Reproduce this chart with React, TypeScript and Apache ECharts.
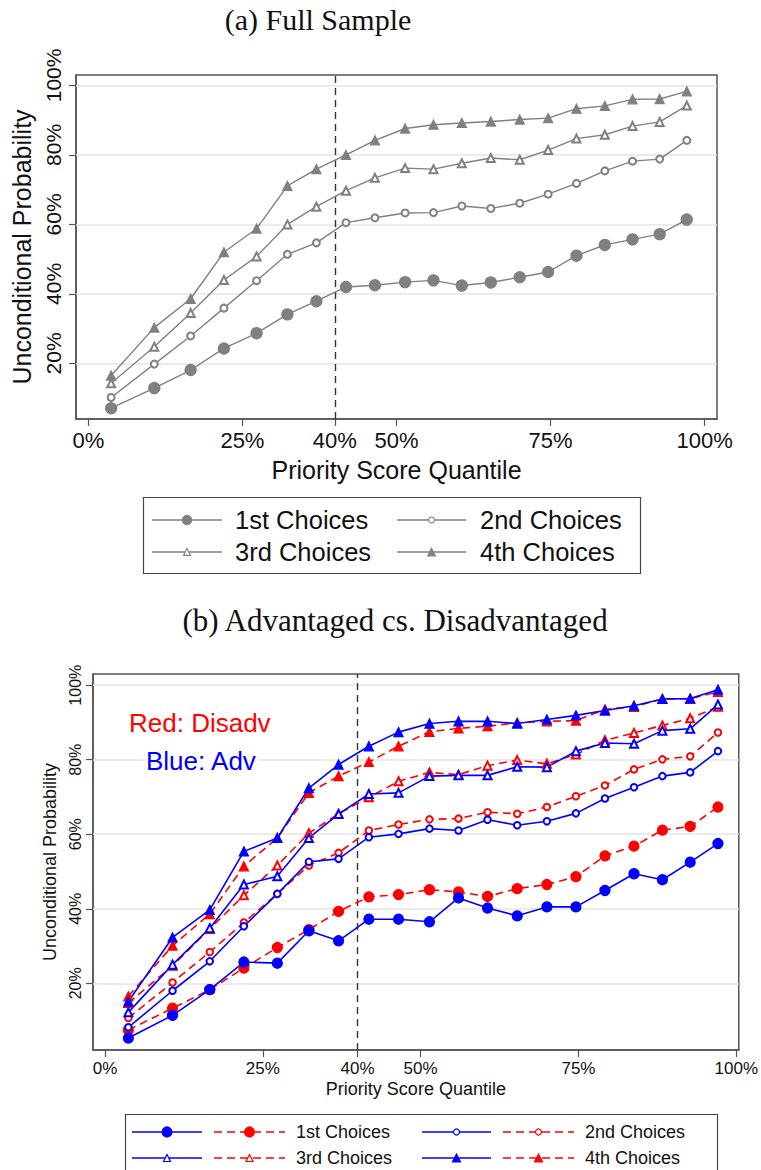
import React, { useEffect, useRef } from "react";
import * as echarts from "echarts";

// Quantile positions (%) of the 20 bins
const quantiles = [3.7, 10.7, 16.6, 22.0, 27.3, 32.3, 37.0, 41.8, 46.5, 51.4, 56.0, 60.6, 65.3, 70.0, 74.6, 79.2, 83.8, 88.3, 92.7, 97.1];

// (a) Full sample
const fullFirst = [7.1, 12.9, 18.1, 24.3, 28.7, 34.1, 37.9, 42.0, 42.5, 43.4, 43.9, 42.4, 43.3, 44.8, 46.3, 51.0, 54.1, 55.7, 57.2, 61.4];
const fullSecond = [10.2, 19.8, 27.9, 35.9, 43.8, 51.4, 54.7, 60.5, 61.9, 63.3, 63.4, 65.3, 64.6, 66.1, 68.7, 71.8, 75.4, 78.2, 78.8, 84.2];
const fullThird = [14.3, 24.8, 34.5, 44.0, 50.8, 60.0, 65.1, 69.7, 73.4, 76.2, 75.9, 77.6, 79.1, 78.6, 81.4, 84.7, 85.8, 88.3, 89.5, 94.2];
const fullFourth = [16.5, 30.3, 38.6, 52.0, 58.8, 71.1, 75.9, 80.0, 84.2, 87.6, 88.7, 89.2, 89.6, 90.2, 90.6, 93.3, 94.1, 96.0, 96.1, 98.3];

// (b) Advantaged (blue) vs Disadvantaged (red)
const advFirst = [5.3, 11.4, 18.3, 25.7, 25.4, 34.1, 31.4, 37.2, 37.2, 36.5, 42.9, 40.2, 38.1, 40.5, 40.5, 44.9, 49.4, 47.8, 52.5, 57.5];
const disFirst = [7.5, 13.3, 18.3, 24.1, 29.6, 34.4, 39.3, 43.2, 43.8, 45.1, 44.5, 43.3, 45.4, 46.5, 48.6, 54.2, 56.8, 61.1, 62.1, 67.3];
const advSecond = [8.2, 18.0, 25.9, 35.3, 44.0, 52.6, 53.4, 59.2, 60.1, 61.5, 61.0, 63.9, 62.4, 63.5, 65.6, 69.6, 72.6, 75.6, 76.6, 82.3];
const disSecond = [10.7, 20.2, 28.4, 36.3, 44.0, 51.6, 55.0, 61.0, 62.6, 64.0, 64.2, 65.9, 65.5, 67.3, 70.2, 73.1, 77.4, 80.1, 80.9, 87.3];
const advThird = [12.2, 25.0, 34.8, 46.5, 48.7, 59.0, 65.4, 70.8, 71.1, 75.6, 75.8, 75.8, 78.1, 78.0, 82.3, 84.5, 84.3, 87.8, 88.3, 94.8];
const disThird = [14.7, 24.7, 34.6, 43.6, 51.6, 60.3, 65.5, 69.9, 74.2, 76.6, 76.0, 78.4, 79.9, 78.9, 81.4, 85.2, 87.2, 89.2, 91.1, 94.2];
const advFourth = [15.1, 32.3, 39.7, 55.4, 59.0, 72.4, 78.7, 83.6, 87.4, 89.7, 90.3, 90.3, 89.7, 90.8, 91.9, 93.2, 94.5, 96.3, 96.4, 98.8];
const disFourth = [16.5, 30.1, 38.6, 51.4, 59.0, 71.1, 75.6, 79.4, 83.6, 87.5, 88.4, 89.0, 89.9, 90.3, 90.5, 93.5, 94.2, 96.3, 96.4, 98.2];

const xTicks = [0, 25, 40, 50, 75, 100];
const yTicks = [20, 40, 60, 80, 100];
const cutoff = 40;
const legendLabels = ["1st Choices", "2nd Choices", "3rd Choices", "4th Choices"];

const SANS = "'Liberation Sans', Arial, sans-serif";
const SERIF = "'Liberation Serif', 'DejaVu Serif', serif";
const GRAY = "#808080";
const BLUE = "#0000ff";
const RED = "#ff0000";

const pts = (ys: number[]) => quantiles.map((x, i) => [x, ys[i]]);

export default function App() {
  const ref = useRef<HTMLDivElement>(null);
  useEffect(() => {
    if (!ref.current) return;
    const chart = echarts.init(ref.current, null, { renderer: "svg" });

    const mk = (color: string, sym: string, size: number, dashed: boolean, width: number) => ({
      symbol: sym,
      symbolSize: size,
      showSymbol: true,
      lineStyle: { color, width, type: dashed ? [8, 5] : "solid" },
      itemStyle: { color, borderColor: color, borderWidth: 1.3 },
    });

    const series: any[] = [];
    // gridline + cutoff carrier series
    [0, 1].forEach((g) => {
      series.push({
        type: "line",
        xAxisIndex: g,
        yAxisIndex: g,
        data: [],
        z: 1,
        silent: true,
        markLine: {
          silent: true,
          symbol: "none",
          label: { show: false },
          lineStyle: { color: "#e4e4e4", width: 1.5, type: "solid" },
          data: yTicks.map((v) => ({ yAxis: v })),
        },
      });
      series.push({
        type: "line",
        xAxisIndex: g,
        yAxisIndex: g,
        data: [],
        z: 2,
        silent: true,
        markLine: {
          silent: true,
          symbol: "none",
          label: { show: false },
          lineStyle: { color: "#333", width: 1.4, type: [7, 5] },
          data: [{ xAxis: cutoff }],
        },
      });
    });

    const full = [
      { d: fullFirst, m: mk(GRAY, "circle", 11, false, 1.4) },
      { d: fullSecond, m: mk(GRAY, "emptyCircle", 7, false, 1.4) },
      { d: fullThird, m: mk(GRAY, "emptyTriangle", 8, false, 1.4) },
      { d: fullFourth, m: mk(GRAY, "triangle", 9, false, 1.4) },
    ];
    full.forEach((s, i) => {
      series.push({ type: "line", name: legendLabels[i], xAxisIndex: 0, yAxisIndex: 0, z: 5, data: pts(s.d), ...s.m });
    });

    const split = [
      { d: disFirst, m: mk(RED, "circle", 10, true, 1.6) },
      { d: advFirst, m: mk(BLUE, "circle", 10, false, 1.6) },
      { d: disSecond, m: mk(RED, "emptyCircle", 6.5, true, 1.6) },
      { d: advSecond, m: mk(BLUE, "emptyCircle", 6.5, false, 1.6) },
      { d: disThird, m: mk(RED, "emptyTriangle", 8, true, 1.6) },
      { d: advThird, m: mk(BLUE, "emptyTriangle", 8, false, 1.6) },
      { d: disFourth, m: mk(RED, "triangle", 9, true, 1.6) },
      { d: advFourth, m: mk(BLUE, "triangle", 9, false, 1.6) },
    ];
    split.forEach((s) => {
      series.push({ type: "line", xAxisIndex: 1, yAxisIndex: 1, z: 5, data: pts(s.d), ...s.m });
    });

    const xAxisCommon = (fs: number, nameFs: number, nameGap: number, min: number, max: number) => ({
      type: "value",
      min,
      max,
      axisLine: { show: true, onZero: false, lineStyle: { color: "#555", width: 1.5 } },
      axisTick: { show: true, customValues: xTicks, length: 7, inside: false, lineStyle: { color: "#555", width: 1.2 } },
      axisLabel: { customValues: xTicks, formatter: (v: number) => v + "%", color: "#111", fontSize: fs, fontFamily: SANS, margin: 10 },
      splitLine: { show: false },
      name: "Priority Score Quantile",
      nameLocation: "middle",
      nameGap,
      nameTextStyle: { color: "#111", fontSize: nameFs, fontFamily: SANS },
    });
    const yAxisCommon = (fs: number, nameFs: number, nameGap: number, margin: number, pad: number, min: number) => ({
      type: "value",
      min,
      max: 103,
      axisLine: { show: true, onZero: false, lineStyle: { color: "#555", width: 1.5 } },
      axisTick: { show: true, customValues: yTicks, length: 7, lineStyle: { color: "#555", width: 1.2 } },
      axisLabel: { customValues: yTicks, rotate: 90, formatter: (v: number) => v + "%", color: "#111", fontSize: fs, fontFamily: SANS, margin, padding: [0, 0, 0, pad] },
      splitLine: { show: false },
      name: "Unconditional Probability",
      nameLocation: "middle",
      nameRotate: 90,
      nameGap,
      nameTextStyle: { color: "#111", fontSize: nameFs, fontFamily: SANS },
    });

    const graphic: any[] = [];
    const text = (t: string, x: number, y: number, fs: number, fam: string, fill = "#111", align = "left", bg = false) => ({
      type: "text",
      x,
      y,
      z: 100,
      silent: true,
      style: {
        text: t, fill, fontSize: fs, fontFamily: fam, textAlign: align, textVerticalAlign: "middle", align, verticalAlign: "middle",
        ...(bg ? { backgroundColor: "#fff", padding: [0, 1] } : {}),
      },
    });
    graphic.push(text("(a) Full Sample", 318, 19, 30, SERIF, "#111", "center"));
    graphic.push(text("(b) Advantaged cs. Disadvantaged", 395, 620, 31, SERIF, "#111", "center"));
    graphic.push(text("Red: Disadv", 128, 723, 26, SANS, RED, "left", true));
    graphic.push(text("Blue: Adv", 145, 761, 26, SANS, BLUE, "left", true));

    const markerShape = (kind: string, cx: number, cy: number, size: number, color: string, lw: number) => {
      const filled = kind === "circle" || kind === "triangle";
      const style = { fill: filled ? color : "#fff", stroke: color, lineWidth: lw };
      if (kind.indexOf("ircle") >= 0) {
        return { type: "circle", silent: true, shape: { cx, cy, r: size / 2 }, style, z: 10 };
      }
      const h = size / 2;
      return { type: "polygon", silent: true, shape: { points: [[cx, cy - h], [cx + h, cy + h], [cx - h, cy + h]] }, style, z: 10 };
    };
    const kinds = ["circle", "emptyCircle", "emptyTriangle", "triangle"];

    // Legend (a)
    graphic.push({ type: "rect", silent: true, shape: { x: 143.5, y: 497.5, width: 497, height: 76 }, style: { fill: "#fff", stroke: "#444", lineWidth: 1.2 } });
    const aSizes = [11, 7, 8, 9];
    const aCols = [{ l: 152, r: 222, t: 235 }, { l: 397, r: 466, t: 480 }];
    const aRows = [520, 552];
    legendLabels.forEach((lab, i) => {
      const c = aCols[i % 2];
      const y = aRows[Math.floor(i / 2)];
      graphic.push({ type: "line", silent: true, shape: { x1: c.l, y1: y, x2: c.r, y2: y }, style: { stroke: GRAY, lineWidth: 1.4 } });
      graphic.push(markerShape(kinds[i], (c.l + c.r) / 2, y, aSizes[i] * 0.85, GRAY, 1.1));
      graphic.push(text(lab, c.t, y, 25.5, SANS));
    });

    // Legend (b)
    graphic.push({ type: "rect", silent: true, shape: { x: 125.5, y: 1114.5, width: 592, height: 70 }, style: { fill: "#fff", stroke: "#444", lineWidth: 1.2 } });
    const bSizes = [10, 6, 7, 8];
    const bCols = [{ bl: 132, br: 202, rl: 214, rr: 285, t: 296 }, { bl: 422, br: 491, rl: 503, rr: 574, t: 585 }];
    const bRows = [1132, 1158];
    legendLabels.forEach((lab, i) => {
      const c = bCols[i % 2];
      const y = bRows[Math.floor(i / 2)];
      graphic.push({ type: "line", silent: true, shape: { x1: c.bl, y1: y, x2: c.br, y2: y }, style: { stroke: BLUE, lineWidth: 1.6 } });
      graphic.push(markerShape(kinds[i], (c.bl + c.br) / 2, y, bSizes[i], BLUE, 1.2));
      graphic.push({ type: "line", silent: true, shape: { x1: c.rl, y1: y, x2: c.rr, y2: y }, style: { stroke: RED, lineWidth: 1.6, lineDash: [8, 5] } });
      graphic.push(markerShape(kinds[i], (c.rl + c.rr) / 2, y, bSizes[i], RED, 1.2));
      graphic.push(text(lab, c.t, y, 18, SANS));
    });

    chart.setOption({
      animation: false,
      backgroundColor: "#fff",
      grid: [
        { left: 76, top: 75, width: 641, height: 344, show: true, borderColor: "#555", borderWidth: 1.5, backgroundColor: "transparent" },
        { left: 93, top: 674, width: 646, height: 376, show: true, borderColor: "#555", borderWidth: 1.5, backgroundColor: "transparent" },
      ],
      xAxis: [
        { gridIndex: 0, ...xAxisCommon(22, 25, 38, -2, 102) },
        { gridIndex: 1, ...xAxisCommon(17, 18, 30, -1.9, 100.4) },
      ],
      yAxis: [
        { gridIndex: 0, ...yAxisCommon(21, 25, 42, 12, 20, 4) },
        { gridIndex: 1, ...yAxisCommon(16, 18, 32, 10, 0, 2.1) },
      ],
      series,
      graphic,
    });
    return () => chart.dispose();
  }, []);
  return <div ref={ref} style={{ position: "absolute", left: 0, top: 0, width: 761, height: 1170 }} />;
}
